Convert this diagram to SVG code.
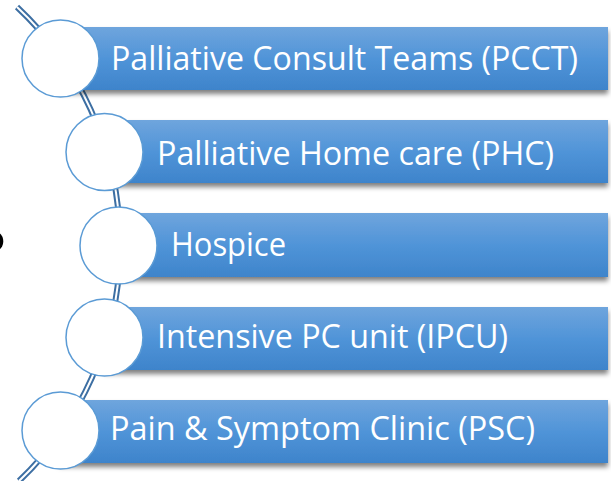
<svg xmlns="http://www.w3.org/2000/svg" width="611" height="481" viewBox="0 0 611 481">
<defs>
<linearGradient id="barGrad" x1="0" y1="0" x2="0" y2="1">
<stop offset="0" stop-color="#6fa5dd"/>
<stop offset="0.5" stop-color="#5094d8"/>
<stop offset="1" stop-color="#3e84cb"/>
</linearGradient>
<filter id="shadow" x="-5%" y="-20%" width="110%" height="160%">
<feDropShadow dx="0" dy="4" stdDeviation="2.5" flood-color="#000" flood-opacity="0.5"/>
</filter>
</defs>
<style>
.bar{fill:url(#barGrad);filter:url(#shadow);}
.circ{fill:#fff;stroke:#5b9bd5;stroke-width:1.5;}
.lbl{fill:#fff;font-family:"Open Sans","Noto Sans",sans-serif;font-size:32px;}
.lineOuter{fill:none;stroke:#3d6fa3;stroke-width:6;}
.lineInner{fill:none;stroke:#fff;stroke-width:2;}
</style>
<rect width="611" height="481" fill="#fff"/>
<text x="-31" y="272" font-family="Liberation Sans, sans-serif" font-weight="bold" font-size="62" fill="#000">?</text>
<g id="connectors">
<path class="lineOuter" d="M 17,7 A 326 326 0 0 1 19,481"/>
<path class="lineInner" d="M 17,7 A 326 326 0 0 1 19,481"/>
</g>
<g id="node1">
<rect class="bar" x="60" y="27" width="548" height="63"/>
<circle class="circ" cx="60.5" cy="58.5" r="38.5"/>
<text class="lbl" x="111" y="70" textLength="467" lengthAdjust="spacingAndGlyphs">Palliative Consult Teams (PCCT)</text>
</g>
<g id="node2">
<rect class="bar" x="105" y="120" width="503" height="63"/>
<circle class="circ" cx="104.5" cy="152" r="38.5"/>
<text class="lbl" x="157" y="165" textLength="397" lengthAdjust="spacingAndGlyphs">Palliative Home care (PHC)</text>
</g>
<g id="node3">
<rect class="bar" x="118" y="213" width="490" height="64"/>
<circle class="circ" cx="118.5" cy="245.5" r="38.5"/>
<text class="lbl" x="171" y="256" textLength="115" lengthAdjust="spacingAndGlyphs">Hospice</text>
</g>
<g id="node4">
<rect class="bar" x="105" y="307" width="503" height="63"/>
<circle class="circ" cx="104.5" cy="337.5" r="38.5"/>
<text class="lbl" x="157" y="348" textLength="351" lengthAdjust="spacingAndGlyphs">Intensive PC unit (IPCU)</text>
</g>
<g id="node5">
<rect class="bar" x="60" y="400" width="548" height="63"/>
<circle class="circ" cx="60.5" cy="430.5" r="38.5"/>
<text class="lbl" x="110" y="440" textLength="425" lengthAdjust="spacingAndGlyphs">Pain &amp; Symptom Clinic (PSC)</text>
</g>
</svg>
